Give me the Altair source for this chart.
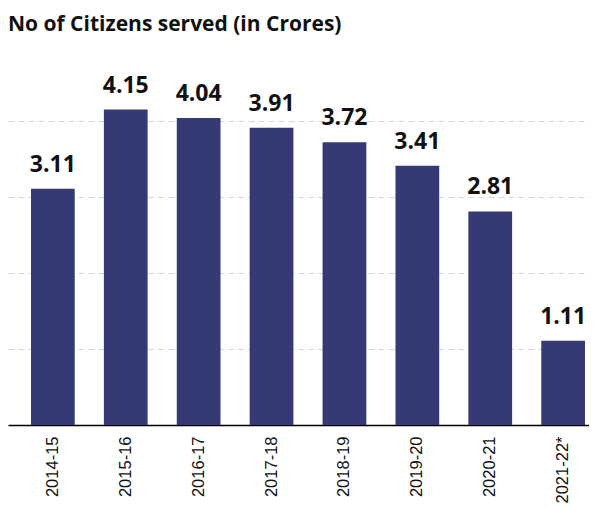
import altair as alt
import pandas as pd

years = ["2014-15", "2015-16", "2016-17", "2017-18", "2018-19", "2019-20", "2020-21", "2021-22*"]
citizens = [3.11, 4.15, 4.04, 3.91, 3.72, 3.41, 2.81, 1.11]
labels = ["3.11", "4.15", "4.04", "3.91", "3.72", "3.41", "2.81", "1.11"]
grid_ticks = [1, 2, 3, 4]

df = pd.DataFrame({"year": years, "value": citizens, "label": labels})

x = alt.X("year:N", sort=years, title=None,
          scale=alt.Scale(paddingInner=0.4, paddingOuter=0.185, align=0.852, round=False),
          axis=alt.Axis(labelAngle=-90, labelAlign="right", labelBaseline="middle",
                        labelFont="Liberation Sans", labelFontSize=16.5, labelColor="#111111",
                        labelPadding=11, ticks=False, domainColor="#000000", domainWidth=1.5,
                        grid=False))
y = alt.Y("value:Q", title=None, scale=alt.Scale(domain=[0, 5], nice=False),
          axis=alt.Axis(values=grid_ticks, labels=False, ticks=False, domain=False,
                        grid=True, gridColor="#d6d6d6", gridDash=[6, 4], gridWidth=1))

base = alt.Chart(df)
bars = base.mark_bar(color="#363a74").encode(x=x, y=y)
text = base.mark_text(font="Open Sans", fontWeight="bold", fontSize=23, color="#111111",
                      baseline="alphabetic", dy=-17).encode(
    x=alt.X("year:N", sort=years), y=alt.Y("value:Q"), text="label:N")

chart = alt.layer(bars, text).properties(
    width=581, height=380,
    autosize=alt.AutoSizeParams(type="none"),
    padding={"left": 0, "right": 0, "top": 37, "bottom": 80},
    title=alt.TitleParams("No of Citizens served (in Crores)", anchor="start", frame="group",
                          font="Open Sans", fontSize=21, fontWeight="bold", color="#111111",
                          baseline="alphabetic", offset=-7, dx=0),
).configure_view(stroke=None)

chart.save("out.html", embed_options={"renderer": "svg", "actions": False})
